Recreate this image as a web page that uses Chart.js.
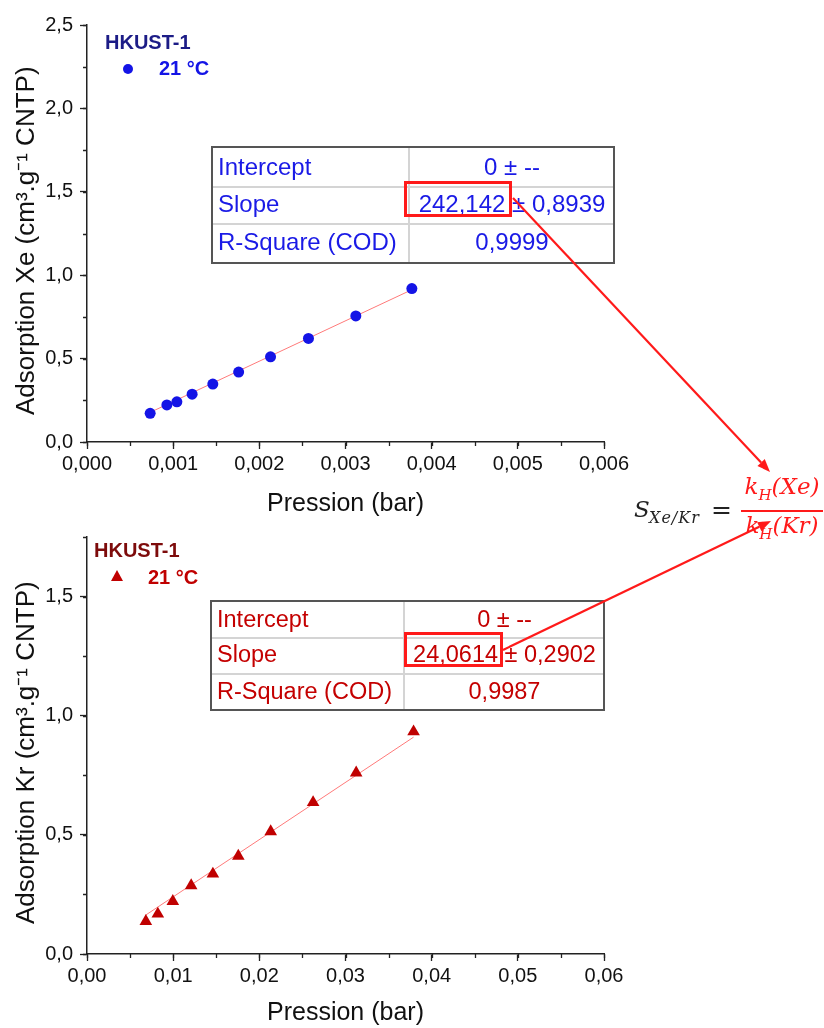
<!DOCTYPE html>
<html>
<head>
<meta charset="utf-8">
<script src="https://cdn.jsdelivr.net/npm/chart.js@4"></script>
<style>
  body { margin: 0; background: #fff; }
  #page { position: relative; width: 824px; height: 1028px; overflow: hidden; font-family: "Liberation Sans", Arial, sans-serif; }
  canvas { position: absolute; left: 0; }
  .abs { position: absolute; white-space: nowrap; line-height: 1; }
  .lg { font-weight: bold; font-size: 20px; }
  .cell { position: absolute; white-space: nowrap; }
  .hl { position: absolute; border: 3px solid #ff1a1a; box-sizing: border-box; }
  .math { font-family: "DejaVu Serif", "Liberation Serif", serif; font-style: italic; }
</style>
</head>
<body>
<div id="page">
  <canvas id="xeChart" width="824" height="519" style="top:0"></canvas>
  <canvas id="krChart" width="824" height="514" style="top:514px"></canvas>

  <!-- legends -->
  <div class="abs lg" style="left:105px; top:32px; color:#1c1c86">HKUST-1</div>
  <div class="abs" style="left:123px; top:64px; width:10px; height:10px; border-radius:50%; background:#1414e6"></div>
  <div class="abs lg" style="left:159px; top:58px; color:#1414e6">21 °C</div>

  <div class="abs lg" style="left:94px; top:540px; color:#7d0b0b">HKUST-1</div>
  <div class="abs" style="left:111px; top:570px; width:0; height:0; border-left:6px solid transparent; border-right:6px solid transparent; border-bottom:11px solid #c00000"></div>
  <div class="abs lg" style="left:148px; top:567px; color:#c00000">21 °C</div>

  <!-- selectivity formula -->
  <div class="abs math" style="left:634px; top:498px; font-size:23px; color:#222">S</div>
  <div class="abs math" style="left:649px; top:510px; font-size:16px; color:#222; letter-spacing:1px">Xe/Kr</div>
  <div class="abs" style="left:711px; top:497px; font-size:25px; color:#222; font-family:'DejaVu Serif', serif">=</div>
  <div class="abs math" style="left:732px; top:475px; width:100px; text-align:center; font-size:23px; color:#ff1a1a">k<sub style="font-size:15px">H</sub>(Xe)</div>
  <div class="abs" style="left:741px; top:510px; width:82px; height:2px; background:#ff1a1a"></div>
  <div class="abs math" style="left:732px; top:514px; width:100px; text-align:center; font-size:23px; color:#ff1a1a">k<sub style="font-size:15px">H</sub>(Kr)</div>

  <svg id="arrows" width="824" height="1028" style="position:absolute; left:0; top:0; pointer-events:none; z-index:5"></svg>
</div>

<script>
// Xe isotherm, HKUST-1, 21 °C
const xePressure = [0.000733, 0.000927, 0.001043, 0.00122, 0.00146, 0.00176, 0.00213, 0.00257, 0.00312, 0.00377];
const xeAdsorbed = [0.172, 0.222, 0.241, 0.287, 0.347, 0.419, 0.511, 0.621, 0.756, 0.920];
const xeFitPressure = [0.00071, 0.00377];
const xeFitAdsorbed = [0.172, 0.913];
const xeXTicks = ['0,000', '0,001', '0,002', '0,003', '0,004', '0,005', '0,006'];
const xeYTicks = ['0,0', '0,5', '1,0', '1,5', '2,0', '2,5'];

// Kr isotherm, HKUST-1, 21 °C
const krPressure = [0.00683, 0.00822, 0.00996, 0.01209, 0.01461, 0.01756, 0.02132, 0.02624, 0.03124, 0.0379];
const krAdsorbed = [0.137, 0.168, 0.221, 0.287, 0.336, 0.411, 0.514, 0.636, 0.760, 0.933];
const krFitPressure = [0.0068, 0.0379];
const krFitAdsorbed = [0.163, 0.910];
const krXTicks = ['0,00', '0,01', '0,02', '0,03', '0,04', '0,05', '0,06'];
const krYTicks = ['0,0', '0,5', '1,0', '1,5'];

// linear fit tables
const fitLabels = ['Intercept', 'Slope', 'R-Square (COD)'];
const xeFitValues = ['0 ± --', '242,142 ± 0,8939', '0,9999'];
const krFitValues = ['0 ± --', '24,0614 ± 0,2902', '0,9987'];

const FONT = '"Liberation Sans", Arial, sans-serif';

// small outward ticks between the labelled ones
const minorTicks = {
    id: 'minorTicks',
    afterDraw(chart, args, opts) {
        const { ctx, chartArea } = chart;
        const xs = chart.scales.x, ys = chart.scales.y;
        ctx.save();
        ctx.strokeStyle = '#222';
        ctx.lineWidth = 1.3;
        ctx.beginPath();
        for (let v = xs.min; v <= xs.max + 1e-9; v += opts.xStep) {
            const px = Math.round(xs.getPixelForValue(v)) + 0.5;
            ctx.moveTo(px, chartArea.bottom);
            ctx.lineTo(px, chartArea.bottom + 4);
        }
        for (let v = ys.min; v <= ys.max + 1e-9; v += opts.yStep) {
            const py = Math.round(ys.getPixelForValue(v)) + 0.5;
            ctx.moveTo(chartArea.left, py);
            ctx.lineTo(chartArea.left - 4, py);
        }
        ctx.stroke();
        ctx.restore();
    }
};

function pairs(xs, ys) {
    return xs.map((x, i) => ({ x: x, y: ys[i] }));
}

function makeChart(id, o) {
    const ctx = document.getElementById(id).getContext('2d');
    return new Chart(ctx, {
        type: 'scatter',
        data: {
            datasets: [{
                data: pairs(o.px, o.py),
                pointStyle: o.marker,
                radius: o.radius,
                backgroundColor: o.color,
                borderColor: o.color,
                borderWidth: 0,
                order: 1
            }, {
                type: 'line',
                data: pairs(o.fx, o.fy),
                borderColor: '#ff7a7a',
                borderWidth: 1,
                pointRadius: 0,
                fill: false,
                order: 2
            }]
        },
        options: {
            responsive: false,
            animation: false,
            layout: { padding: { top: o.top, right: 220, bottom: 0, left: 0 } },
            plugins: {
                legend: { display: false },
                tooltip: { enabled: false },
                minorTicks: { xStep: o.xMinor, yStep: o.yMinor }
            },
            scales: {
                x: {
                    type: 'linear',
                    min: 0, max: o.xMax,
                    afterFit: s => { s.height = o.xHeight; },
                    border: { color: '#222', width: 1.5 },
                    grid: { drawOnChartArea: false, drawTicks: true, tickLength: 7, color: '#222', tickWidth: 1.3 },
                    ticks: {
                        stepSize: o.xStep, includeBounds: false, maxRotation: 0, padding: 3,
                        color: '#111', font: { family: FONT, size: 20 },
                        callback: (v, i) => o.xLabels[i]
                    },
                    title: { display: true, text: 'Pression (bar)', color: '#111', font: { family: FONT, size: 25 }, padding: { top: 0, bottom: 0 } }
                },
                y: {
                    type: 'linear',
                    min: 0, max: o.yMax,
                    afterFit: s => { s.width = 87; },
                    border: { color: '#222', width: 1.5 },
                    grid: { drawOnChartArea: false, drawTicks: true, tickLength: 7, color: '#222', tickWidth: 1.3 },
                    ticks: {
                        stepSize: 0.5, includeBounds: false, padding: 7,
                        color: '#111', font: { family: FONT, size: 20 },
                        callback: (v, i) => o.yLabels[i]
                    },
                    title: { display: true, text: o.yTitle, color: '#111', font: { family: FONT, size: 26 }, padding: { top: 11, bottom: 0 } }
                }
            }
        },
        plugins: [minorTicks]
    });
}

makeChart('xeChart', {
    px: xePressure, py: xeAdsorbed, fx: xeFitPressure, fy: xeFitAdsorbed,
    marker: 'circle', radius: 5.5, color: '#1414e6',
    xMax: 0.006, xStep: 0.001, xMinor: 0.0005, yMax: 2.5, yMinor: 0.25,
    xLabels: xeXTicks, yLabels: xeYTicks, top: 25, xHeight: 77,
    yTitle: 'Adsorption Xe (cm³.g⁻¹ CNTP)  '
});

makeChart('krChart', {
    px: krPressure, py: krAdsorbed, fx: krFitPressure, fy: krFitAdsorbed,
    marker: 'triangle', radius: 7.3, color: '#c00000',
    xMax: 0.06, xStep: 0.01, xMinor: 0.005, yMax: 1.75, yMinor: 0.25,
    xLabels: krXTicks, yLabels: krYTicks, top: 23, xHeight: 74,
    yTitle: 'Adsorption Kr (cm³.g⁻¹ CNTP)  '
});

// fit result tables drawn as html boxes
function fitTable(g, values, color, size) {
    const page = document.getElementById('page');
    const box = document.createElement('div');
    box.style.cssText = `position:absolute; left:${g.left}px; top:${g.top}px; width:${g.right - g.left}px; height:${g.bottom - g.top}px; border:2px solid #555; box-sizing:border-box;`;
    page.appendChild(box);
    const edges = [g.top, ...g.rows, g.bottom];
    g.rows.forEach(y => {
        const l = document.createElement('div');
        l.style.cssText = `position:absolute; left:${g.left + 2}px; top:${y - 1}px; width:${g.right - g.left - 4}px; height:2px; background:#d4d4d4;`;
        page.appendChild(l);
    });
    const v = document.createElement('div');
    v.style.cssText = `position:absolute; left:${g.split - 1}px; top:${g.top + 2}px; width:2px; height:${g.bottom - g.top - 4}px; background:#d4d4d4;`;
    page.appendChild(v);
    fitLabels.forEach((lab, i) => {
        const h = edges[i + 1] - edges[i];
        const t = edges[i] + g.shift[i];
        const a = document.createElement('div');
        a.className = 'cell';
        a.textContent = lab;
        a.style.cssText += `left:${g.left + 7}px; top:${t}px; height:${h}px; line-height:${h}px; font-size:${size}px; color:${color};`;
        page.appendChild(a);
        const b = document.createElement('div');
        b.className = 'cell';
        b.textContent = values[i];
        b.style.cssText += `left:${g.split}px; width:${g.right - g.split}px; text-align:center; top:${t}px; height:${h}px; line-height:${h}px; font-size:${size}px; color:${color};`;
        page.appendChild(b);
    });
    const hl = document.createElement('div');
    hl.className = 'hl';
    hl.style.left = g.hl[0] + 'px';
    hl.style.top = g.hl[1] + 'px';
    hl.style.width = g.hl[2] + 'px';
    hl.style.height = g.hl[3] + 'px';
    page.appendChild(hl);
}

fitTable({ left: 211, top: 146, right: 615, bottom: 264, split: 409, rows: [187, 224], shift: [0, -2.5, -2], hl: [404, 181, 108, 36] },
    xeFitValues, '#1a1ae6', 24);
fitTable({ left: 210, top: 600, right: 605, bottom: 711, split: 404, rows: [638, 674], shift: [0, -2.5, -1], hl: [404, 632, 99, 35] },
    krFitValues, '#c40000', 23.5);

// red arrows from the slopes to the selectivity formula
function arrow(svg, x1, y1, x2, y2) {
    const ns = 'http://www.w3.org/2000/svg';
    const ang = Math.atan2(y2 - y1, x2 - x1);
    const len = 13, wid = 5;
    const bx = x2 - len * Math.cos(ang), by = y2 - len * Math.sin(ang);
    const line = document.createElementNS(ns, 'line');
    line.setAttribute('x1', x1); line.setAttribute('y1', y1);
    line.setAttribute('x2', bx); line.setAttribute('y2', by);
    line.setAttribute('stroke', '#ff1a1a'); line.setAttribute('stroke-width', 2.2);
    svg.appendChild(line);
    const head = document.createElementNS(ns, 'polygon');
    const pts = [
        [x2, y2],
        [bx + wid * Math.sin(ang), by - wid * Math.cos(ang)],
        [bx - wid * Math.sin(ang), by + wid * Math.cos(ang)]
    ];
    head.setAttribute('points', pts.map(p => p.join(',')).join(' '));
    head.setAttribute('fill', '#ff1a1a');
    svg.appendChild(head);
}
const svg = document.getElementById('arrows');
arrow(svg, 513, 198, 770, 472);
arrow(svg, 503, 650, 771, 521);
</script>
</body>
</html>
